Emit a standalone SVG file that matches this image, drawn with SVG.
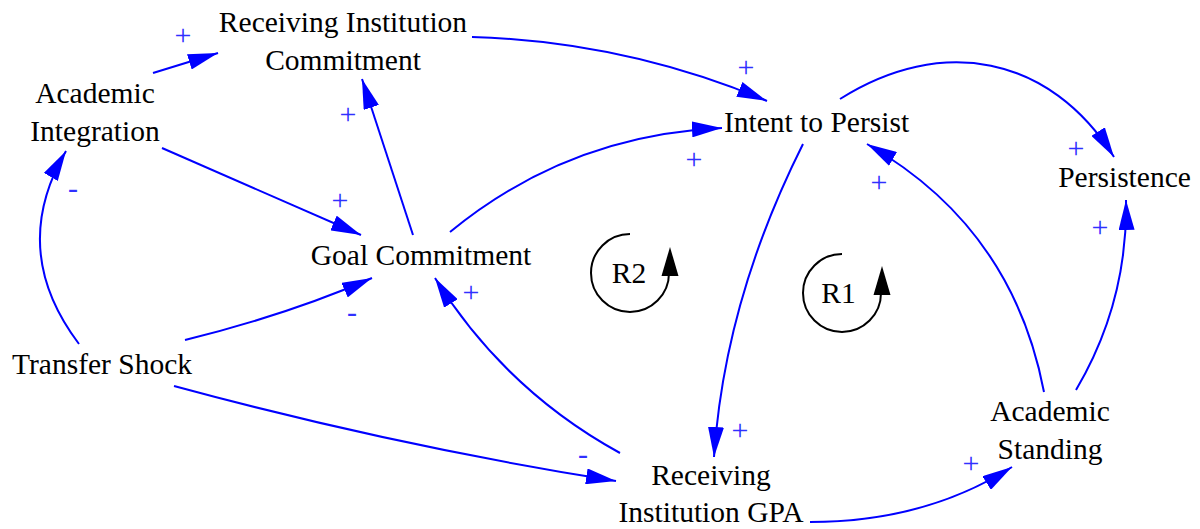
<svg xmlns="http://www.w3.org/2000/svg" width="1200" height="529" viewBox="0 0 1200 529">
<style>
.t{font-family:"Liberation Serif","Times New Roman",serif;font-size:29.5px;fill:#000;text-anchor:middle}
.c{fill:none;stroke:#0000ff;stroke-width:2;marker-end:url(#ah)}
.p{font-family:"Liberation Serif","Times New Roman",serif;font-size:30px;fill:#3030ff;text-anchor:middle}
.l{fill:none;stroke:#000;stroke-width:2}
</style>
<defs>
<marker id="ah" viewBox="0 0 30 16" refX="30" refY="8" markerWidth="30" markerHeight="16" orient="auto" markerUnits="userSpaceOnUse">
<path d="M0,0 L30,8 L0,16 z" fill="#0000ff"/>
</marker>
</defs>
<rect width="1200" height="529" fill="#fff"/>
<g id="connectors">
<path class="c" d="M153,73 L218,53"/>
<path class="c" d="M162,148 L361,235"/>
<path class="c" d="M413,235 L362,79"/>
<path class="c" d="M79,344 Q8,250 66,151"/>
<path class="c" d="M185,340 Q290,314 372,278"/>
<path class="c" d="M174,386 Q395,446 616,481"/>
<path class="c" d="M620,453 Q505,390 435,278"/>
<path class="c" d="M450,232 Q568,135 722,128"/>
<path class="c" d="M472,37 Q625.5,41.6 767,101"/>
<path class="c" d="M840,99 C941,35 1050,55 1114,157"/>
<path class="c" d="M803,144 Q724.5,300.5 714,457"/>
<path class="c" d="M1044,392 Q1012.5,227.3 867,144"/>
<path class="c" d="M1076,390 Q1128,302 1126,200"/>
<path class="c" d="M810,522 Q925,522 1012,467"/>
<g id="polarities">
<text class="p" x="183" y="45">+</text>
<text class="p" x="340" y="210">+</text>
<text class="p" x="348" y="124">+</text>
<text class="p" x="73" y="198">-</text>
<text class="p" x="746" y="77">+</text>
<text class="p" x="694" y="169">+</text>
<text class="p" x="1076" y="158">+</text>
<text class="p" x="879" y="192">+</text>
<text class="p" x="1100" y="237">+</text>
<text class="p" x="352" y="322">-</text>
<text class="p" x="471" y="302">+</text>
<text class="p" x="583" y="464">-</text>
<text class="p" x="740" y="440">+</text>
<text class="p" x="971" y="473">+</text>
</g>
</g>
<g id="loop-R2">
<path class="l" d="M630,234 A39,39 0 1 0 669,273 L669,276"/>
<path d="M670,247 L678.5,276 L661.5,276 z" fill="#000"/>
<text class="t" x="629" y="283">R2</text>
</g>
<g id="loop-R1">
<path class="l" d="M842,254 A39,39 0 1 0 881,293 L881,295"/>
<path d="M882,266 L890.5,295 L873.5,295 z" fill="#000"/>
<text class="t" x="838.5" y="303">R1</text>
</g>
<g id="node-receiving-institution-commitment">
<text class="t" x="343" y="32">Receiving Institution</text>
<text class="t" x="343" y="70">Commitment</text>
</g>
<g id="node-academic-integration">
<text class="t" x="95" y="103">Academic</text>
<text class="t" x="95" y="141">Integration</text>
</g>
<g id="node-goal-commitment">
<text class="t" x="421" y="265">Goal Commitment</text>
</g>
<g id="node-transfer-shock">
<text class="t" x="102" y="374">Transfer Shock</text>
</g>
<g id="node-intent-to-persist">
<text class="t" x="816.5" y="132">Intent to Persist</text>
</g>
<g id="node-persistence">
<text class="t" x="1124.5" y="187">Persistence</text>
</g>
<g id="node-academic-standing">
<text class="t" x="1050" y="421">Academic</text>
<text class="t" x="1050" y="459">Standing</text>
</g>
<g id="node-receiving-institution-gpa">
<text class="t" x="711" y="485">Receiving</text>
<text class="t" x="711" y="522">Institution GPA</text>
</g>
</svg>
